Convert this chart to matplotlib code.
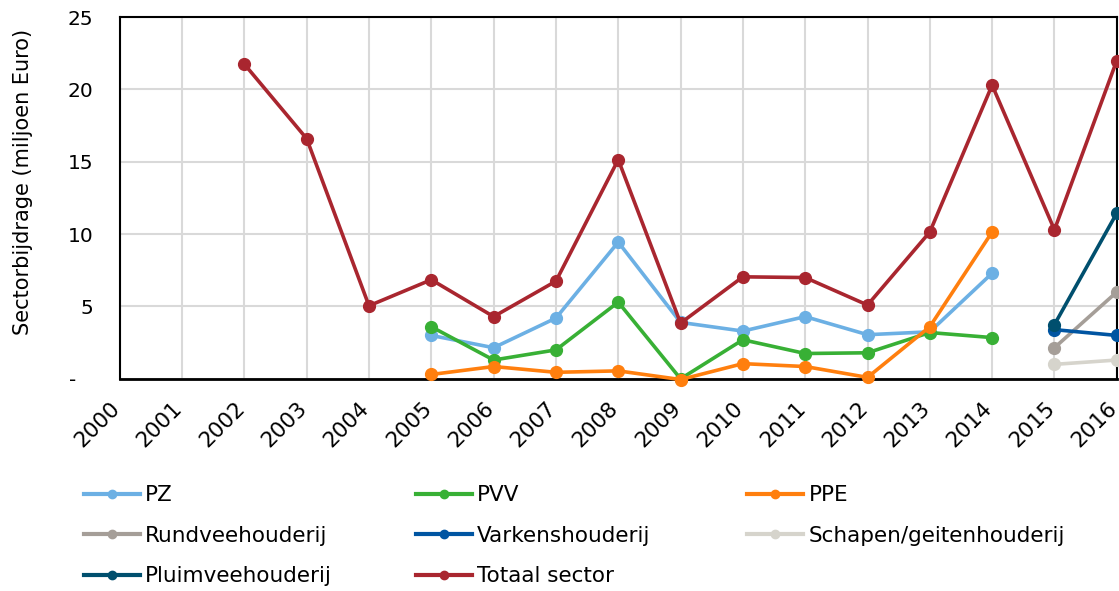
import matplotlib
matplotlib.use("Agg")
import matplotlib.pyplot as plt
from matplotlib.transforms import ScaledTranslation
import numpy as np

years = list(range(2000, 2017))

# values (miljoen Euro); None = no data
pz = [None]*5 + [3.0, 2.15, 4.2, 9.45, 3.9, 3.3, 4.3, 3.05, 3.25, 7.3, None, None]
pvv = [None]*5 + [3.6, 1.3, 2.0, 5.3, 0.0, 2.7, 1.75, 1.8, 3.2, 2.85, None, None]
ppe = [None]*5 + [0.3, 0.85, 0.45, 0.55, -0.05, 1.05, 0.85, 0.1, 3.6, 10.15, None, None]
rundvee = [None]*15 + [2.15, 6.0]
varkens = [None]*15 + [3.4, 3.0]
schapen = [None]*15 + [1.0, 1.3]
pluimvee = [None]*15 + [3.75, 11.45]
totaal = [None, None, 21.75, 16.6, 5.05, 6.85, 4.3, 6.75, 15.15, 3.85, 7.05, 7.0, 5.1, 10.15, 20.3, 10.3, 22.0]

series = [
    ("PZ", pz, "#6CB0E4"),
    ("PVV", pvv, "#38B035"),
    ("PPE", ppe, "#FF7F0E"),
    ("Rundveehouderij", rundvee, "#A59E98"),
    ("Varkenshouderij", varkens, "#0055A2"),
    ("Schapen/geitenhouderij", schapen, "#D6D4CC"),
    ("Pluimveehouderij", pluimvee, "#004F6E"),
    ("Totaal sector", totaal, "#A9262F"),
]

yticks = [0, 5, 10, 15, 20, 25]
yticklabels = ["-", "5", "10", "15", "20", "25"]

plt.rcParams['font.family'] = ['DejaVu Sans']
fig = plt.figure(figsize=(11.19, 5.91), dpi=100)
ax = fig.add_axes([0.107, 0.359, 0.891, 0.612])

handles = {}
for i, (name, vals, col) in enumerate(series):
    y = np.array([np.nan if v is None else v for v in vals], dtype=float)
    h, = ax.plot(years, y, color=col, lw=2.6, marker='o', markersize=8.5,
                 label=name, zorder=3 + i, clip_on=False)
    handles[name] = h

ax.set_xlim(2000, 2016)
ax.set_ylim(0, 25)
ax.set_xticks(years)
ax.set_xticklabels([str(y) for y in years], rotation=45, ha='right',
                   rotation_mode='anchor', fontsize=15.5)
ax.set_yticks(yticks)
ax.set_yticklabels(yticklabels, fontsize=14.5)
ax.tick_params(axis='both', length=0)
ax.tick_params(axis='y', pad=19)
ax.tick_params(axis='x', pad=14)
zero_lbl = ax.get_yticklabels()[0]
zero_lbl.set_transform(zero_lbl.get_transform() +
                       ScaledTranslation(-17 / 100, 0, fig.dpi_scale_trans))
for lbl in ax.get_xticklabels():
    lbl.set_transform(lbl.get_transform() +
                      ScaledTranslation(-10 / 100, 0, fig.dpi_scale_trans))
ax.grid(True, color='#D9D9D9', lw=1.5, zorder=0)
ax.set_axisbelow(True)
for s in ax.spines.values():
    s.set_color('black')
    s.set_linewidth(1.5)
ax.spines['bottom'].set_linewidth(2)
ax.set_ylabel("Sectorbijdrage (miljoen Euro)", fontsize=15)
ax.yaxis.set_label_coords(-0.087, 0.544)

cols = [
    ["PZ", "Rundveehouderij", "Pluimveehouderij"],
    ["PVV", "Varkenshouderij", "Totaal sector"],
    ["PPE", "Schapen/geitenhouderij"],
]
xpos = [0.075, 0.372, 0.668]
for x, names in zip(xpos, cols):
    leg = fig.legend([handles[n] for n in names], names, loc='upper left',
                     bbox_to_anchor=(x, 0.179), frameon=False,
                     fontsize=15.5, handlelength=2.6, handletextpad=0.23,
                     labelspacing=0.95, borderaxespad=0, borderpad=0)
    for lh in leg.legend_handles:
        lh.set_markersize(6)
        lh.set_linewidth(3)

fig.savefig("out.png", dpi=100)
